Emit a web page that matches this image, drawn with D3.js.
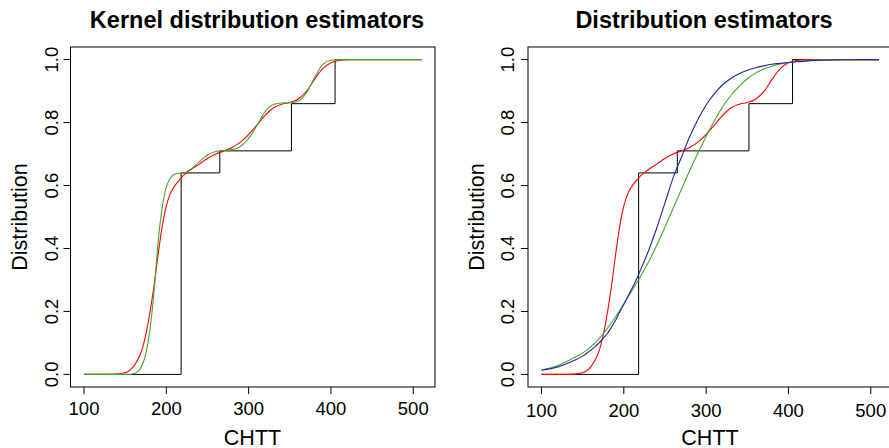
<!DOCTYPE html>
<html>
<head>
  <meta charset="UTF-8">
<style type='text/css'>
  body { margin: 0; background: #fff; }
  svg { display: block; background: #fff; }
  text { font-family: "Liberation Sans", Arial, sans-serif; fill: #000; }
</style>
</head>
<body>
<svg></svg>
<script src="https://d3js.org/d3.v7.min.js"></script>
<script>

let width = 889, height = 448;

// CHTT grid the curves were read on
const gridX = [100, 120, 140, 150, 155, 160, 165, 170, 175, 180, 185, 190, 195, 200, 205, 210, 215, 220, 225, 230,
               240, 250, 260, 270, 280, 290, 300, 310, 320, 330, 340, 350, 360, 370, 380, 390, 400, 410, 420, 440, 470, 510];

// kernel estimator (red), same in both panels
const kernelRed = [0, 0, 0.001, 0.005, 0.012, 0.025, 0.045, 0.075, 0.125, 0.195, 0.28, 0.38, 0.47, 0.535, 0.575, 0.598, 0.615, 0.63, 0.641, 0.651,
                   0.668, 0.686, 0.70, 0.71, 0.721, 0.738, 0.762, 0.792, 0.823, 0.846, 0.858, 0.864, 0.874, 0.898, 0.937, 0.971, 0.99, 0.997, 1, 1, 1, 1];
// second kernel estimator (green, left panel)
const kernelGreen = [0, 0, 0, 0, 0, 0.002, 0.008, 0.025, 0.065, 0.14, 0.26, 0.42, 0.53, 0.595, 0.624, 0.636, 0.639, 0.641, 0.644, 0.652,
                     0.675, 0.697, 0.708, 0.711, 0.714, 0.724, 0.75, 0.79, 0.835, 0.857, 0.862, 0.863, 0.868, 0.893, 0.942, 0.985, 0.998, 1, 1, 1, 1, 1];
// smooth fits (right panel)
const fitGreen = [0.014, 0.028, 0.054, 0.068, 0.077, 0.088, 0.1, 0.114, 0.129, 0.146, 0.164, 0.183, 0.203, 0.224, 0.245, 0.266, 0.288, 0.31, 0.333, 0.357,
                  0.41, 0.468, 0.528, 0.588, 0.647, 0.703, 0.756, 0.806, 0.85, 0.886, 0.915, 0.939, 0.957, 0.97, 0.979, 0.986, 0.991, 0.994, 0.996, 0.999, 1, 1];
const fitBlue = [0.013, 0.024, 0.045, 0.058, 0.067, 0.077, 0.088, 0.1, 0.115, 0.13, 0.15, 0.172, 0.198, 0.222, 0.248, 0.274, 0.3, 0.33, 0.36, 0.393,
                 0.465, 0.545, 0.625, 0.69, 0.755, 0.81, 0.856, 0.892, 0.92, 0.94, 0.955, 0.966, 0.974, 0.98, 0.985, 0.988, 0.991, 0.993, 0.995, 0.998, 0.9995, 1];

// empirical distribution
const stepX = [100, 218, 265, 352, 405, 510];
const stepY = [0, 0.64, 0.71, 0.86, 1.0, 1.0];

const xTicks = [100, 200, 300, 400, 500];
const yTicks = [0, 0.2, 0.4, 0.6, 0.8, 1.0];

let svg = d3.select("svg")
    .attr("width", width)
    .attr("height", height);

function drawPanel(opt) {
  let x = d3.scaleLinear().domain([83.6, 526.4]).range([opt.left, opt.left + 364.5]);
  let y = d3.scaleLinear().domain([-0.04, 1.04]).range([387, 47]);
  let g = svg.append("g");

  // box
  g.append("rect")
      .attr("x", opt.left).attr("y", 47)
      .attr("width", 364.5).attr("height", 340)
      .attr("fill", "none").attr("stroke", "#000").attr("stroke-width", 1);

  // x ticks
  g.selectAll(".xt").data(xTicks).enter().append("line")
      .attr("x1", d => x(d)).attr("x2", d => x(d))
      .attr("y1", 387).attr("y2", 394)
      .attr("stroke", "#000");
  g.selectAll(".xl").data(xTicks).enter().append("text")
      .attr("x", d => x(d)).attr("y", opt.xTickBase)
      .attr("text-anchor", "middle").style("font-size", "18.5px")
      .text(d => d);

  // y ticks (labels rotated like R)
  g.selectAll(".yt").data(yTicks).enter().append("line")
      .attr("x1", opt.left - 7).attr("x2", opt.left)
      .attr("y1", d => y(d)).attr("y2", d => y(d))
      .attr("stroke", "#000");
  g.selectAll(".yl").data(yTicks).enter().append("text")
      .attr("transform", d => "translate(" + opt.yTickBase + "," + y(d) + ") rotate(-90)")
      .attr("text-anchor", "middle").style("font-size", "18.5px")
      .text(d => d.toFixed(1));

  // titles and labels
  g.append("text")
      .attr("x", opt.titleX).attr("y", 28)
      .attr("text-anchor", "middle")
      .style("font-size", "23.5px").style("font-weight", "bold")
      .text(opt.title);
  g.append("text")
      .attr("x", opt.left + 182).attr("y", 445)
      .attr("text-anchor", "middle").style("font-size", "21.5px")
      .text("CHTT");
  g.append("text")
      .attr("transform", "translate(" + opt.yLabBase + ",217) rotate(-90)")
      .attr("text-anchor", "middle").style("font-size", "21.5px")
      .text("Distribution");

  // ecdf
  let step = d3.line()
      .x((d, i) => x(stepX[i])).y(d => y(d))
      .curve(d3.curveStepAfter);
  g.append("path")
      .attr("d", step(stepY))
      .attr("fill", "none").attr("stroke", "#000").attr("stroke-width", 1);

  let smooth = d3.line()
      .x((d, i) => x(gridX[i])).y(d => y(d))
      .curve(d3.curveMonotoneX);
  opt.series.forEach(s => {
    g.append("path")
        .attr("d", smooth(s.values))
        .attr("fill", "none").attr("stroke", s.color).attr("stroke-width", 1.1);
  });
}

drawPanel({
  left: 70.5, title: "Kernel distribution estimators", titleX: 257,
  xTickBase: 415, yTickBase: 57.5, yLabBase: 27,
  series: [{values: kernelRed, color: "#ff0000"}, {values: kernelGreen, color: "#3faa2a"}]
});

drawPanel({
  left: 528, title: "Distribution estimators", titleX: 704,
  xTickBase: 416.5, yTickBase: 514, yLabBase: 484,
  series: [{values: kernelRed, color: "#ff0000"}, {values: fitGreen, color: "#3faa2a"}, {values: fitBlue, color: "#24249a"}]
});

</script>
</body>
</html>
